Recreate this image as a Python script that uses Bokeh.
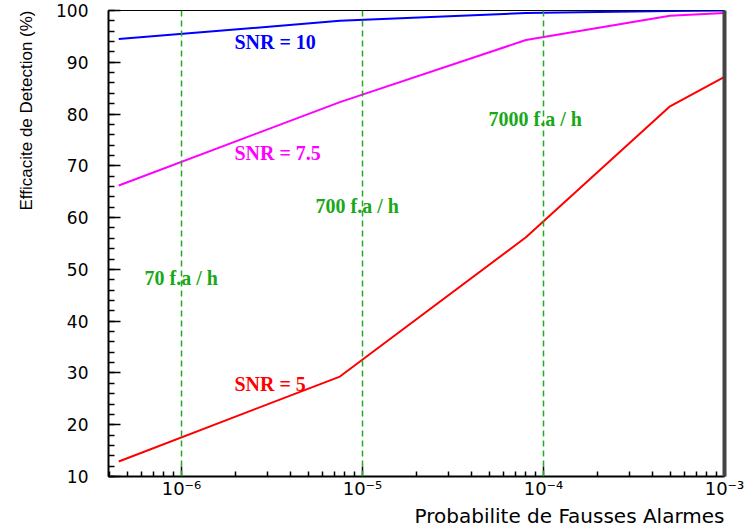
from bokeh.plotting import figure
from bokeh.models import Range1d, FixedTicker, Label, Span, Title, LinearAxis
from bokeh.embed import file_html
from bokeh.resources import INLINE

# ---- data ----
fa_prob = [4.5e-7, 7.5e-6, 8.0e-5, 5.0e-4, 1.0e-3]
eff_snr10 = [94.5, 98.0, 99.5, 99.9, 100.0]
eff_snr75 = [66.2, 82.3, 94.3, 99.0, 99.5]
eff_snr5 = [12.9, 29.3, 56.2, 81.5, 87.2]

fa_rate_lines = [1e-6, 1e-5, 1e-4]
fa_rate_labels = ["70 f.a / h", "700 f.a / h", "7000 f.a / h"]
fa_rate_label_pos = [(6.25e-7, 48.3), (5.5e-6, 62.2), (4.97e-5, 79.0)]

snr_labels = ["SNR = 10", "SNR = 7.5", "SNR = 5"]
snr_colors = ["#0000ff", "#ff00ff", "#ff0000"]
snr_label_pos = [(1.96e-6, 93.9), (1.96e-6, 72.4), (1.96e-6, 27.8)]

x_ticks = [1e-6, 1e-5, 1e-4, 1e-3]
x_tick_labels = ["10\u207b\u2076", "10\u207b\u2075", "10\u207b\u2074", "10\u207b\u00b3"]
y_ticks = list(range(10, 101, 10))
y_minor = list(range(10, 101, 2))

x_title = "Probabilite de Fausses Alarmes"
y_title = "Efficacite de Detection (%)"

x_lo, x_hi = 3.95e-7, 1e-3
y_lo, y_hi = 10, 100

W, H = 753, 527
p = figure(width=W, height=H, x_axis_type="log",
           x_range=Range1d(x_lo, x_hi), y_range=Range1d(y_lo, y_hi),
           output_backend="svg", toolbar_location=None,
           min_border_left=107, min_border_right=29,
           min_border_top=10, min_border_bottom=51)
p.xgrid.visible = False
p.ygrid.visible = False
p.background_fill_color = "white"
p.border_fill_color = "white"
p.outline_line_color = "black"
p.outline_line_width = 1

for ax in (p.xaxis[0], p.yaxis[0]):
    ax.axis_line_width = 2
    ax.axis_line_color = "black"
    ax.major_tick_out = 0
    ax.minor_tick_out = 0
    ax.major_tick_line_color = "black"
    ax.minor_tick_line_color = "black"
    ax.major_tick_line_width = 1.5
    ax.minor_tick_line_width = 1.5

p.yaxis.ticker = FixedTicker(ticks=y_ticks, minor_ticks=y_minor)
p.yaxis.major_tick_in = 12
p.yaxis.minor_tick_in = 6
p.yaxis.major_label_text_font = "DejaVu Sans"
p.yaxis.major_label_text_font_size = "17px"
p.yaxis.major_label_text_color = "black"
p.yaxis.major_label_standoff = 20

x_minor = []
for e in range(-7, -2):
    for k in range(2, 10):
        v = k * 10.0 ** e
        if x_lo <= v <= x_hi:
            x_minor.append(v)
p.xaxis.ticker = FixedTicker(ticks=x_ticks, minor_ticks=x_minor)
p.xaxis.major_tick_in = 10
p.xaxis.minor_tick_in = 5
p.xaxis.major_label_overrides = dict(zip(x_ticks, x_tick_labels))
p.xaxis.major_label_text_font = "DejaVu Sans"
p.xaxis.major_label_text_font_size = "18px"
p.xaxis.major_label_text_color = "black"
p.xaxis.major_label_standoff = 1

# thick grey right edge of the frame
right_ax = LinearAxis(axis_line_width=4, axis_line_color="#444444",
                      major_tick_in=0, major_tick_out=0,
                      minor_tick_in=0, minor_tick_out=0,
                      major_label_text_font_size="0px",
                      major_label_standoff=0,
                      ticker=FixedTicker(ticks=[]))
p.add_layout(right_ax, "right")

# dashed vertical false-alarm-rate lines
for loc in fa_rate_lines:
    p.add_layout(Span(location=loc, dimension="height", line_color="#22aa22",
                      line_width=1.5, line_dash="6 4"))

# curves
p.line(fa_prob, eff_snr10, line_color=snr_colors[0], line_width=2)
p.line(fa_prob, eff_snr75, line_color=snr_colors[1], line_width=2)
p.line(fa_prob, eff_snr5, line_color=snr_colors[2], line_width=2)

# SNR labels
for txt, col, (lx, ly) in zip(snr_labels, snr_colors, snr_label_pos):
    p.add_layout(Label(x=lx, y=ly, text=txt, text_color=col,
                       text_font="Liberation Serif", text_font_style="bold",
                       text_font_size="20px", text_baseline="middle", text_align="left"))

# false alarm rate labels
for txt, (lx, ly) in zip(fa_rate_labels, fa_rate_label_pos):
    p.add_layout(Label(x=lx, y=ly, text=txt, text_color="#18a818",
                       text_font="Liberation Serif", text_font_style="bold",
                       text_font_size="20px", text_baseline="middle", text_align="left"))

# axis titles
p.add_layout(Title(text=x_title, align="right",
                   text_font="DejaVu Sans", text_font_size="20px",
                   text_font_style="normal", text_color="black", standoff=0), "below")
p.add_layout(Title(text=y_title, align="right", vertical_align="top",
                   text_font="Liberation Sans", text_font_size="17px",
                   text_font_style="normal", text_color="black", standoff=32), "left")

open("out.html", "w").write(file_html(p, INLINE))
